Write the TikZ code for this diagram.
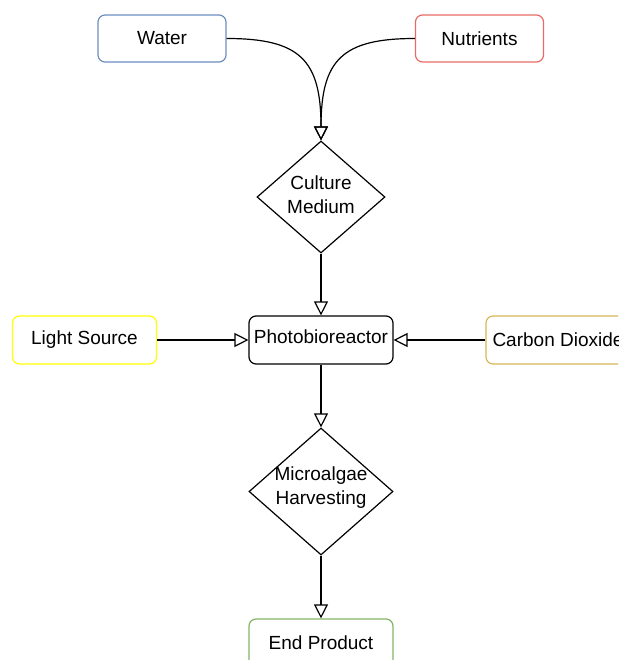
\documentclass[tikz,border=0pt]{standalone}
\usepackage{fontspec}
\setmainfont{Liberation Sans}
\usetikzlibrary{shapes.geometric,arrows.meta}
\definecolor{cblue}{HTML}{6C8EBF}
\definecolor{cred}{HTML}{EA6B66}
\definecolor{cyellow}{HTML}{FFFF00}
\definecolor{corange}{HTML}{D6B656}
\definecolor{cgreen}{HTML}{82B366}
\tikzset{
  box/.style={draw, rounded corners=7pt, line width=1.2pt, minimum width=128pt, minimum height=47pt, inner sep=0pt, font=\fontsize{19}{22}\selectfont},
  widebox/.style={box, minimum width=144pt, minimum height=48pt},
  dia/.style={draw, shape=diamond, line width=1.2pt, inner sep=0pt},
  lbl/.style={align=center, font=\fontsize{19}{24}\selectfont, inner sep=0pt},
  arr/.style={line width=1.2pt, -{Triangle[open, length=14pt, width=14pt]}}
}
\begin{document}
\begin{tikzpicture}[x=1pt, y=-1pt]
\useasboundingbox (0,0) rectangle (618,660);
\clip (0,0) rectangle (618,660);
\node[box, draw=cblue] (water) at (162,38.5) {Water};
\node[box, draw=cred] (nutr) at (479.5,38.5) {Nutrients};
\node[dia, minimum width=128pt, minimum height=112pt] (cult) at (321,197) {};
\node[lbl] (cultl) at (321,195) {Culture\\Medium};
\node[widebox, draw=black] (pbr) at (321,340) {};
\node[lbl] (pbrl) at (321,337) {Photobioreactor};
\node[widebox, draw=cyellow] (light) at (84.5,340) {Light Source};
\node[widebox, draw=corange] (co2) at (558,340) {Carbon Dioxide};
\node[dia, minimum width=144pt, minimum height=127pt] (harv) at (321,491.5) {};
\node[lbl] (harvl) at (321,488) {Microalgae\\Harvesting};
\node[widebox, draw=cgreen] (endp) at (321,643) {End Product};

\draw[arr] (water.east) .. controls (300,38.5) and (321,60) .. (cult.north);
\draw[arr] (nutr.west) .. controls (342,38.5) and (321,60) .. (cult.north);
\draw[arr] (cult.south) -- (pbr.north);
\draw[arr] (light.east) -- (pbr.west);
\draw[arr] (co2.west) -- (pbr.east);
\draw[arr] (pbr.south) -- (harv.north);
\draw[arr] (harv.south) -- (endp.north);
\end{tikzpicture}
\end{document}
